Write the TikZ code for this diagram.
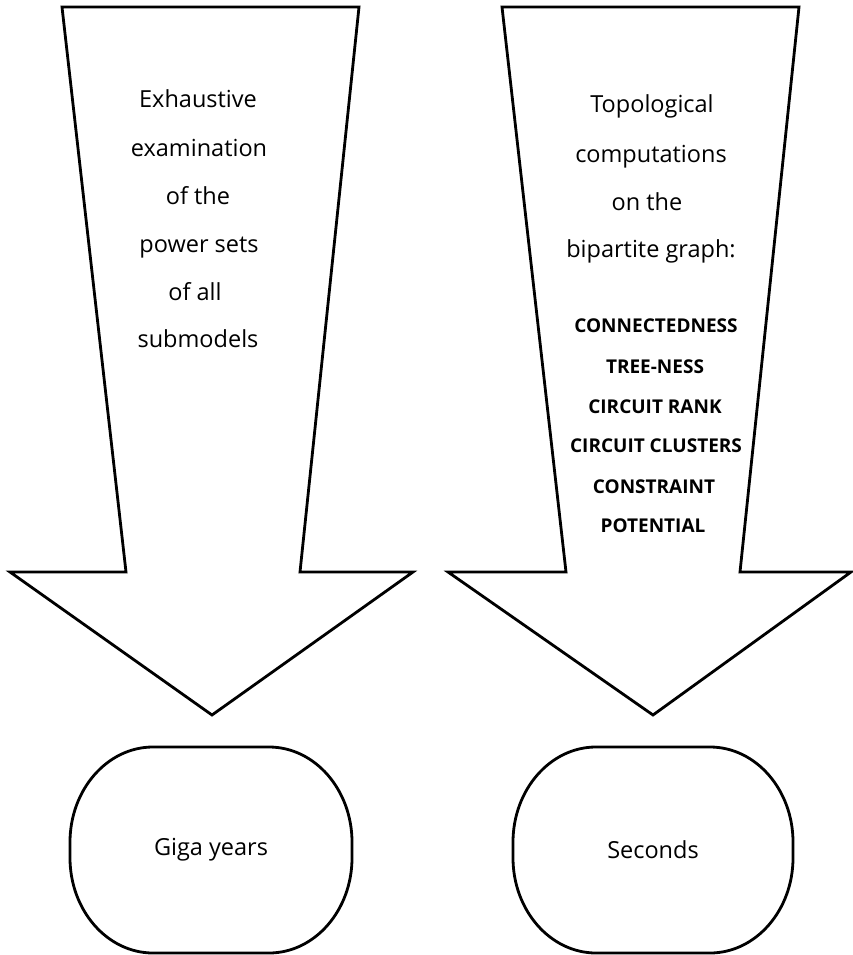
\documentclass[tikz,border=0pt]{standalone}
\usepackage{fontspec}
\setmainfont{Open Sans}
\begin{document}
\begin{tikzpicture}[x=1pt,y=-1pt,
  outline/.style={draw=black,line width=2.8pt,line join=miter,fill=white},
  bigtxt/.style={anchor=base,inner sep=0pt,font=\fontsize{23.5}{28}\selectfont},
  captxt/.style={anchor=base,inner sep=0pt,font=\fontsize{19}{22}\selectfont\bfseries},
  endbox/.style={inner sep=0pt,font=\fontsize{23.5}{28}\selectfont}]
\useasboundingbox (0,0) rectangle (853,955);
% left arrow
\draw[outline] (62,7) -- (359,7) -- (300,572) -- (413,572) -- (212,715) -- (10,572) -- (126,572) -- cycle;
% right arrow
\draw[outline] (502,7) -- (799,7) -- (740,572) -- (851,572) -- (653,715) -- (448,572) -- (566,572) -- cycle;
% left texts
\node[bigtxt] (l1) at (198,108) {Exhaustive};
\node[bigtxt] (l2) at (199,157) {examination};
\node[bigtxt] (l3) at (198,204) {of the};
\node[bigtxt] (l4) at (199,252) {power sets};
\node[bigtxt] (l5) at (195,300) {of all};
\node[bigtxt] (l6) at (198,347) {submodels};
% right texts
\node[bigtxt] (r1) at (652,113) {Topological};
\node[bigtxt] (r2) at (651,162) {computations};
\node[bigtxt] (r3) at (647,210) {on the};
\node[bigtxt] (r4) at (651,257) {bipartite graph:};
\node[captxt] (c1) at (656,332) {CONNECTEDNESS};
\node[captxt] (c2) at (655,373) {TREE-NESS};
\node[captxt] (c3) at (655,413) {CIRCUIT RANK};
\node[captxt] (c4) at (656,452) {CIRCUIT CLUSTERS};
\node[captxt] (c5) at (654,493) {CONSTRAINT};
\node[captxt] (c6) at (653,532) {POTENTIAL};
% result boxes (rounded shapes with elliptical corners)
\draw[outline] (153,747) -- (269,747)
  .. controls (315,747) and (352,790) .. (352,842) -- (352,858)
  .. controls (352,910) and (315,953) .. (269,953) -- (153,953)
  .. controls (107,953) and (70,910) .. (70,858) -- (70,842)
  .. controls (70,790) and (107,747) .. (153,747) -- cycle;
\draw[outline] (596,747) -- (710,747)
  .. controls (756,747) and (793,790) .. (793,842) -- (793,858)
  .. controls (793,910) and (756,953) .. (710,953) -- (596,953)
  .. controls (550,953) and (513,910) .. (513,858) -- (513,842)
  .. controls (513,790) and (550,747) .. (596,747) -- cycle;
\node[endbox] (giga) at (211,850) {Giga years};
\node[endbox] (sec) at (653,850) {Seconds};
\end{tikzpicture}
\end{document}
